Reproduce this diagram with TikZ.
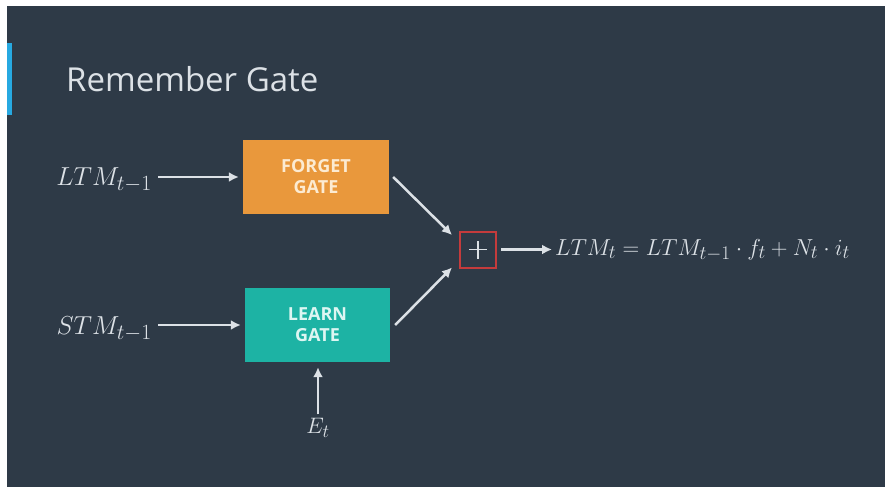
\documentclass[tikz,border=0pt]{standalone}
\usepackage{fontspec}
\usetikzlibrary{arrows.meta}
\newfontfamily\slidefont{Open Sans}

\definecolor{slate}{HTML}{2E3A47}
\definecolor{forgetorange}{HTML}{E9983C}
\definecolor{forgettext}{HTML}{FCEBD2}
\definecolor{learnteal}{HTML}{1DB3A4}
\definecolor{learntext}{HTML}{DDF6F2}
\definecolor{ink}{HTML}{DCE1E6}
\definecolor{accent}{HTML}{27A9E1}
\definecolor{sumred}{HTML}{C43B3C}

\tikzset{
  gate/.style={rectangle, inner sep=0pt, minimum width=146pt, minimum height=74pt,
    align=center, font=\slidefont\bfseries\fontsize{18}{21}\selectfont},
  lbl/.style={inner sep=0pt, text=ink, font=\Huge},
  arr/.style={draw=ink, line width=2.5pt, -{Latex[length=10pt,width=10pt]}},
}

\begin{document}
\begin{tikzpicture}[x=1pt,y=-1pt]
  % slide frame
  \useasboundingbox (0,0) rectangle (887,493);
  \fill[white] (0,0) rectangle (887,493);
  \fill[slate] (7,6) rectangle (885,487);
  \fill[accent] (7,43) rectangle (12,115);

  % title
  \node[anchor=base west, inner sep=0pt, text=ink,
        font=\slidefont\fontsize{33}{40}\selectfont] (title) at (66,91) {Remember Gate};

  % gates
  \node[gate, fill=forgetorange, text=forgettext] (forget) at (316,177) {FORGET\\GATE};
  \node[gate, fill=learnteal, text=learntext, minimum width=145pt] (learn) at (317.5,325) {LEARN\\GATE};

  % pointwise sum
  \node[draw=sumred, line width=2pt, minimum size=36pt, inner sep=0pt] (sum) at (478,249.5) {};
  \draw[ink, line width=1.8pt] ([xshift=-9pt]sum.center) -- ([xshift=9pt]sum.center);
  \draw[ink, line width=1.8pt] ([yshift=-9pt]sum.center) -- ([yshift=9pt]sum.center);

  % inputs
  \node[lbl, anchor=base east] (ltm) at (152,185) {\scalebox{1.045}{$LTM_{t-1}$}};
  \node[lbl, anchor=base east] (stm) at (152,334) {\scalebox{1.045}{$STM_{t-1}$}};
  \node[lbl] (et) at (318,428) {\scalebox{0.9}{$E_t$}};

  % output
  \node[lbl, anchor=base west] (eq) at (555,255)
    {\scalebox{0.93}{$LTM_t = LTM_{t-1}\cdot f_t + N_t\cdot i_t$}};

  % connectors
  \draw[arr, shorten <=6pt, shorten >=4pt] (forget.west -| ltm.east) -- (forget.west);
  \draw[arr, shorten <=6pt, shorten >=4pt] (learn.west -| stm.east) -- (learn.west);
  \draw[arr, shorten <=4pt, shorten >=5pt] (et.north) -- (learn.south -| et.north);
  \draw[arr] ([xshift=4pt]forget.east) -- ([shift={(-7,4.5)}]sum.north west);
  \draw[arr] ([xshift=5pt]learn.east) -- ([shift={(-7,-1)}]sum.south west);
  \draw[arr, shorten <=4pt, shorten >=3pt] (sum.east) -- (sum.east -| eq.west);
\end{tikzpicture}
\end{document}
